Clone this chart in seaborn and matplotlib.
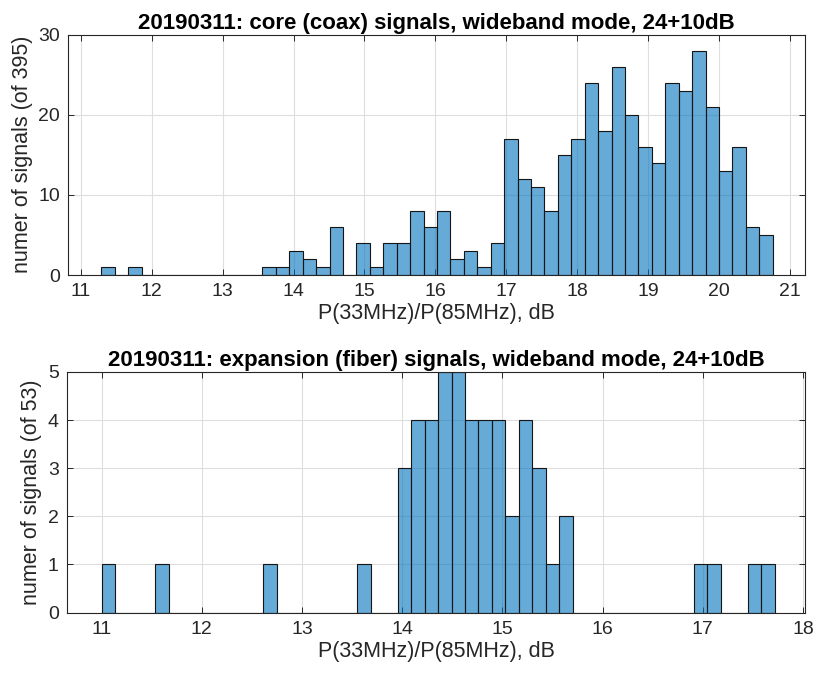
import numpy as np
import pandas as pd
import matplotlib
matplotlib.use("Agg")
import matplotlib.pyplot as plt
import seaborn as sns

# ---- data ----
top_title = "20190311: core (coax) signals, wideband mode, 24+10dB"
top_ylabel = "numer of signals (of 395)"
top_bin_range = (11.29, 20.755)
top_counts = [1, 0, 1, 0, 0, 0, 0, 0, 0, 0,
              0, 0, 1, 1, 3, 2, 1, 6, 0, 4,
              1, 4, 4, 8, 6, 8, 2, 3, 1, 4,
              17, 12, 11, 8, 15, 17, 24, 18, 26, 20,
              16, 14, 24, 23, 28, 21, 13, 16, 6, 5]
top_xticks = [11, 12, 13, 14, 15, 16, 17, 18, 19, 20, 21]
top_yticks = [0, 10, 20, 30]

bot_title = "20190311: expansion (fiber) signals, wideband mode, 24+10dB"
bot_ylabel = "numer of signals (of 53)"
bot_bin_range = (11.0, 17.716)
bot_counts = [1, 0, 0, 0, 1, 0, 0, 0, 0, 0,
              0, 0, 1, 0, 0, 0, 0, 0, 0, 1,
              0, 0, 3, 4, 4, 5, 5, 4, 4, 4,
              2, 4, 3, 1, 2, 0, 0, 0, 0, 0,
              0, 0, 0, 0, 1, 1, 0, 0, 1, 1]
bot_xticks = [11, 12, 13, 14, 15, 16, 17, 18]
bot_yticks = [0, 1, 2, 3, 4, 5]

xlabel = "P(33MHz)/P(85MHz), dB"

sns.set_theme(style="white")
plt.rcParams["font.family"] = ["Liberation Sans", "DejaVu Sans"]

FACE = (0.0, 0.447, 0.741, 0.6)
AXC = "#262626"

fig = plt.figure(figsize=(8.15, 6.77), dpi=100)
W, H = 815, 677

def make_ax(px_left, px_top, px_right, px_bottom):
    return fig.add_axes([px_left / W, 1 - px_bottom / H,
                         (px_right - px_left) / W, (px_bottom - px_top) / H])

ax1 = make_ax(68.3, 34.5, 804.5, 275)
ax2 = make_ax(67.0, 372, 805, 612.5)

def draw(ax, rng, counts, title, ylabel, xticks, yticks, xlim, ylim):
    n = len(counts)
    edges = np.linspace(rng[0], rng[1], n + 1)
    centers = 0.5 * (edges[:-1] + edges[1:])
    df = pd.DataFrame({"x": centers, "w": np.asarray(counts, dtype=float)})
    sns.histplot(data=df, x="x", weights="w", bins=edges.tolist(), ax=ax,
                 stat="count", element="bars", fill=True)
    for p in ax.patches:
        p.set_alpha(None)
        p.set_facecolor(FACE)
        p.set_edgecolor("#151515")
        p.set_linewidth(0.8)
    ax.set_xlim(*xlim)
    ax.set_ylim(*ylim)
    ax.set_xticks(xticks)
    ax.set_yticks(yticks)
    ax.grid(True, color="#dedede", linewidth=0.8)
    ax.set_axisbelow(True)
    for s in ax.spines.values():
        s.set_color(AXC)
        s.set_linewidth(0.8)
        s.set_visible(True)
    ax.tick_params(axis="both", which="both", direction="in", length=4,
                   width=0.7, color=AXC, labelcolor=AXC, labelsize=14,
                   top=True, right=True, bottom=True, left=True, pad=6)
    ax.set_xlabel(xlabel, fontsize=15.5, color=AXC, labelpad=2)
    ax.set_ylabel(ylabel, fontsize=15.5, color=AXC, labelpad=4)
    ax.set_title(title, fontsize=16, fontweight="bold", color="black", pad=4)

draw(ax1, top_bin_range, top_counts, top_title, top_ylabel,
     top_xticks, top_yticks, (10.825, 21.204), (0, 30))
draw(ax2, bot_bin_range, bot_counts, bot_title, bot_ylabel,
     bot_xticks, bot_yticks, (10.654, 18.02), (0, 5))

fig.savefig("out.png", dpi=100)
